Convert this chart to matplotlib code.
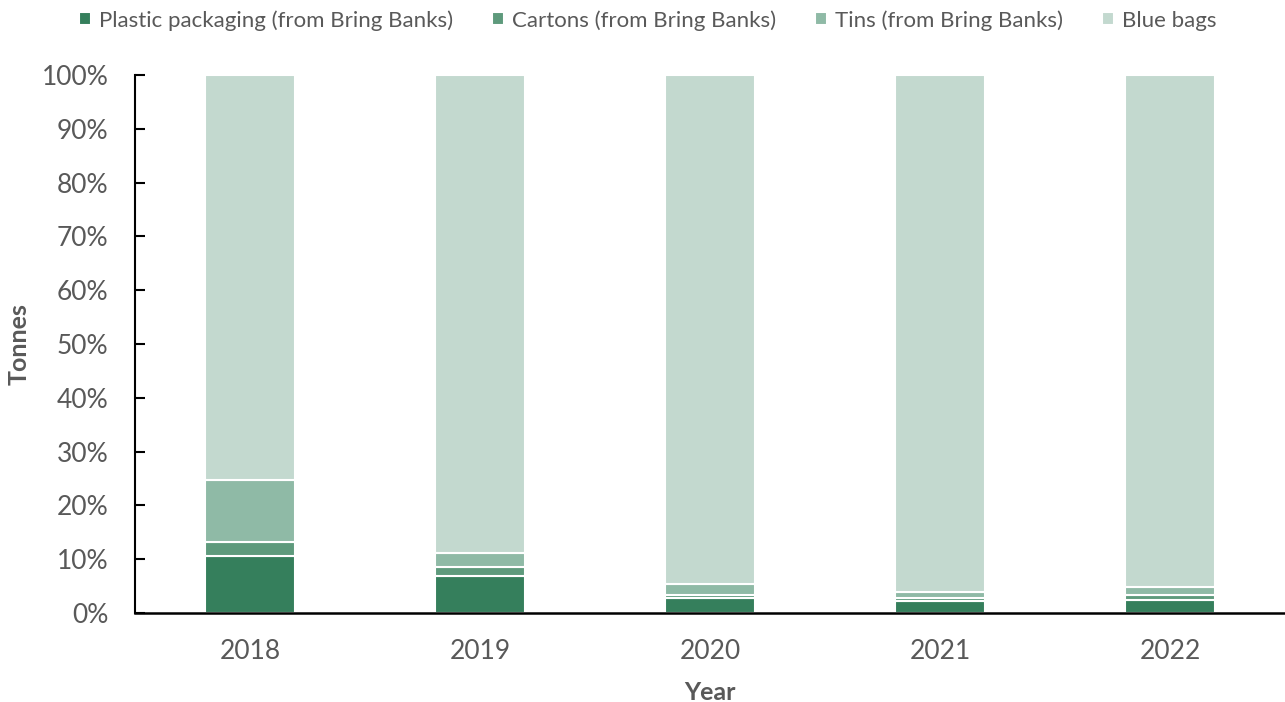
import numpy as np
import matplotlib.pyplot as plt
from matplotlib.ticker import PercentFormatter

plt.rcParams['font.family'] = ['Lato', 'DejaVu Sans']

years = ['2018', '2019', '2020', '2021', '2022']
series = ['Plastic packaging (from Bring Banks)', 'Cartons (from Bring Banks)',
          'Tins (from Bring Banks)', 'Blue bags']
plastic = [10.6, 6.8, 2.8, 2.2, 2.4]
cartons = [2.5, 1.7, 0.5, 0.6, 1.0]
tins = [11.6, 2.7, 2.0, 1.1, 1.4]
blue_bags = [75.3, 88.8, 94.7, 96.1, 95.2]
colours = ['#357f5c', '#5e9a7c', '#8fbaa6', '#c3d9cf']

grey = '#595959'
fig = plt.figure(figsize=(12.85, 7.02), dpi=100)
ax = fig.add_axes([0.105, 0.127, 0.895, 0.766])

x = np.arange(len(years))
bottom = np.zeros(len(years))
for name, vals, c in zip(series, [plastic, cartons, tins, blue_bags], colours):
    vals = np.array(vals)
    ax.bar(x, vals, 0.39, bottom=bottom, color=c, edgecolor='white',
           linewidth=1.5, label=name)
    bottom += vals

ax.set_xlim(-0.5, len(years) - 0.5)
ax.set_ylim(0, 100)
ax.set_yticks(np.arange(0, 101, 10))
ax.yaxis.set_major_formatter(PercentFormatter(decimals=0))
ax.set_xticks(x)
ax.set_xticklabels(years)
ax.tick_params(axis='y', direction='in', length=7, width=1.5, colors='black',
               labelcolor=grey, labelsize=19, pad=19)
ax.tick_params(axis='x', length=0, labelcolor=grey, labelsize=19, pad=19)
for s in ['top', 'right']:
    ax.spines[s].set_visible(False)
ax.spines['left'].set_linewidth(1.5)
ax.spines['bottom'].set_linewidth(1.8)

ax.set_ylabel('Tonnes', fontsize=18, fontweight='bold', color=grey, labelpad=8)
ax.set_xlabel('Year', fontsize=18, fontweight='bold', color=grey, labelpad=12)

leg = fig.legend(loc='center', bbox_to_anchor=(0.504, 0.971), ncol=4, frameon=False,
                 fontsize=16, handlelength=0.55, handleheight=0.55,
                 handletextpad=0.35, columnspacing=1.75)
for t in leg.get_texts():
    t.set_color(grey)

plt.savefig('out.png', dpi=100)
